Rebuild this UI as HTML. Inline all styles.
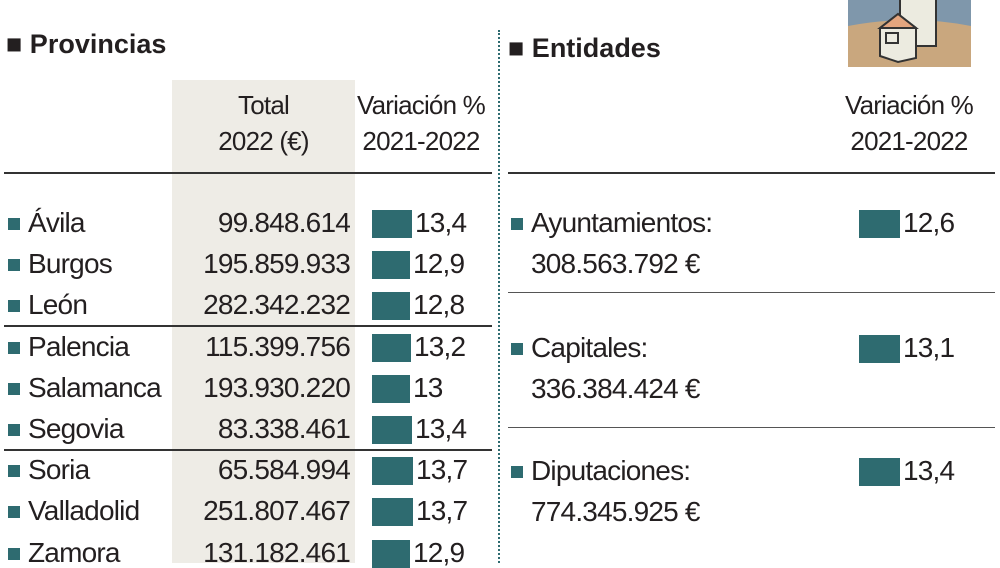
<!DOCTYPE html><html><head><meta charset="utf-8"><style>
body{margin:0;width:1000px;height:563px;background:#fff;overflow:hidden;position:relative;font-family:"Liberation Sans",sans-serif;color:#231f20}
.t{position:absolute;font-size:28px;letter-spacing:-0.8px;white-space:nowrap;line-height:30px}
.h{position:absolute;font-size:27px;font-weight:bold;white-space:nowrap}
.sq{position:absolute;width:12px;height:12px;background:#2e6b70}
.bar{position:absolute;height:28px;background:#2e6b70}
.ln{position:absolute;height:2px;background:#333}
.r{text-align:right}
</style></head><body>
<div style="position:absolute;left:172px;top:80px;width:183px;height:483px;background:#eeece6"></div>
<div style="position:absolute;left:498px;top:30px;height:533px;border-left:2px dotted #2e6b70"></div>
<div class="h" style="left:6px;top:29px">■ Provincias</div>
<div class="h" style="left:508px;top:33px">■ Entidades</div>
<div class="t" style="left:172px;width:183px;text-align:center;top:87px;font-size:26px;line-height:36px">Total<br>2022 (€)</div>
<div class="t" style="left:350px;width:142px;text-align:center;top:87px;font-size:26px;line-height:36px">Variación %<br>2021-2022</div>
<div class="t" style="left:838px;width:142px;text-align:center;top:87px;font-size:26px;line-height:36px">Variación %<br>2021-2022</div>
<div class="ln" style="left:4px;width:488px;top:172px"></div>
<div class="ln" style="left:508px;width:487px;top:172px"></div>
<div class="ln" style="left:4px;width:488px;top:325px"></div>
<div class="ln" style="left:4px;width:488px;top:449px"></div>
<div class="ln" style="left:508px;width:487px;top:292px;background:#555;height:1px"></div>
<div class="ln" style="left:508px;width:487px;top:427px;background:#555;height:1px"></div>
<svg style="position:absolute;left:848px;top:0" width="123" height="67"><rect width="123" height="67" fill="#c9a77e"/><path d="M0 0H123V26Q62 14 0 26Z" fill="#7f97ab"/><rect x="52" y="-2" width="36" height="48" fill="#ecebe0" stroke="#333" stroke-width="2"/><path d="M32 28L50 14L68 28V58L50 62L32 56Z" fill="#ecebe0" stroke="#333" stroke-width="2"/><path d="M32 28L50 14L68 28Z" fill="#e3a57e" stroke="#333" stroke-width="2"/><rect x="38" y="33" width="12" height="10" fill="none" stroke="#333" stroke-width="2"/></svg>
<div id="rows"></div>
<script>
var d=[["Ávila","99.848.614","13,4",40],["Burgos","195.859.933","12,9",38],["León","282.342.232","12,8",38],["Palencia","115.399.756","13,2",39],["Salamanca","193.930.220","13",38],["Segovia","83.338.461","13,4",40],["Soria","65.584.994","13,7",41],["Valladolid","251.807.467","13,7",41],["Zamora","131.182.461","12,9",38]];
var h="";d.forEach(function(r,i){var y=208+i*41.2;
h+='<div class="sq" style="left:8px;top:'+(y+10)+'px"></div><div class="t" style="left:28px;top:'+y+'px">'+r[0]+'</div>';
h+='<div class="t r" style="left:172px;width:178px;top:'+y+'px">'+r[1]+'</div>';
h+='<div class="bar" style="left:372px;width:'+r[3]+'px;top:'+(y+2)+'px"></div><div class="t" style="left:'+(372+r[3]+3)+'px;top:'+y+'px">'+r[2]+'</div>';});
var e=[["Ayuntamientos:","308.563.792 €","12,6",208],["Capitales:","336.384.424 €","13,1",333],["Diputaciones:","774.345.925 €","13,4",456]];
e.forEach(function(r){var y=r[3];
h+='<div class="sq" style="left:511px;top:'+(y+10)+'px"></div><div class="t" style="left:531px;top:'+y+'px">'+r[0]+'<br><span style="line-height:52px">'+r[1]+'</span></div>';
h+='<div class="bar" style="left:859px;width:41px;top:'+(y+2)+'px"></div><div class="t" style="left:903px;top:'+y+'px">'+r[2]+'</div>';});
document.getElementById("rows").innerHTML=h;
</script>
</body></html>
